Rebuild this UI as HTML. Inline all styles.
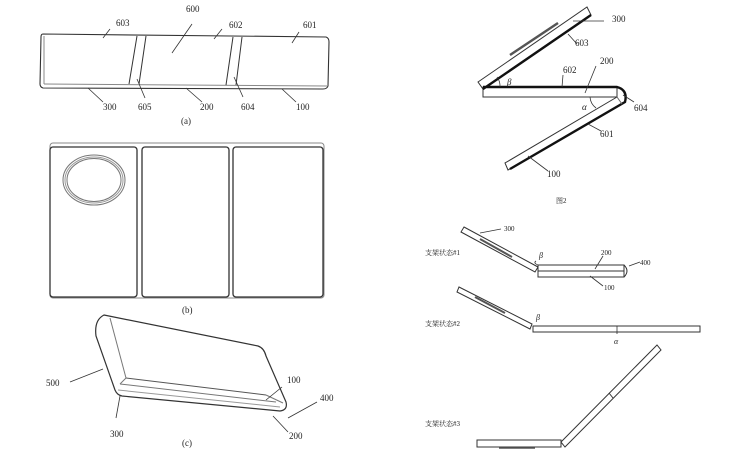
<!DOCTYPE html>
<html><head><meta charset="utf-8"><style>
html,body{margin:0;padding:0;background:#fff}
svg{display:block}
text{font-family:"Liberation Serif",serif;font-size:9px;fill:#222;stroke:none}
.c{font-family:"Liberation Serif","Noto Serif CJK SC",serif;font-size:7px}
</style></head><body>
<svg width="750" height="460" viewBox="0 0 750 460" xmlns="http://www.w3.org/2000/svg" fill="none" stroke="#333" stroke-width="1">
<!-- (a) -->
<path d="M43 34 L326 37 Q329 38 329 42 L328 86 Q327 89 323 89 L43 88 Q40 87 40 84 L41 37 Q41 34 43 34Z" stroke-width="1.1"/>
<line x1="44" y1="84" x2="327" y2="86" stroke="#888"/>
<line x1="44" y1="36" x2="44" y2="84" stroke="#888"/>
<line x1="137" y1="36" x2="129" y2="84"/><line x1="146" y1="36" x2="139" y2="84"/>
<line x1="233" y1="37" x2="226" y2="85"/><line x1="242" y1="37" x2="236" y2="85"/>
<g stroke-width="0.8">
<line x1="103" y1="38" x2="110" y2="29"/><line x1="172" y1="53" x2="192" y2="24"/><line x1="214" y1="39" x2="222" y2="29"/><line x1="292" y1="43" x2="299" y2="32"/>
<line x1="88" y1="88" x2="103" y2="102"/><line x1="137" y1="79" x2="145" y2="98"/><line x1="186" y1="88" x2="202" y2="102"/><line x1="234" y1="77" x2="243" y2="97"/><line x1="282" y1="89" x2="296" y2="102"/>
</g>
<text x="116" y="26">603</text><text x="186" y="12">600</text><text x="229" y="28">602</text><text x="303" y="28">601</text>
<text x="103" y="110">300</text><text x="138" y="110">605</text><text x="200" y="110">200</text><text x="241" y="110">604</text><text x="296" y="110">100</text>
<text x="181" y="124">(a)</text>
<!-- (b) -->
<rect x="50" y="143" width="274" height="155" rx="3" stroke="#888"/>
<rect x="50" y="147" width="87" height="150" rx="3" stroke-width="1.3"/>
<rect x="142" y="147" width="87" height="150" rx="3" stroke-width="1.3"/>
<rect x="233" y="147" width="90" height="150" rx="3" stroke-width="1.3"/>
<ellipse cx="94" cy="180" rx="31" ry="25" stroke="#777" stroke-width="1"/>
<ellipse cx="94" cy="180" rx="29" ry="23" stroke="#999"/>
<ellipse cx="94" cy="180" rx="27" ry="21.5" stroke="#777"/>
<text x="182" y="313">(b)</text>
<!-- (c) -->
<path d="M104 315 L258 346 Q264 348 266 356 L286 402 Q288 410 280 411 L122 396 Q117 395 115 390 L96 336 Q94 320 104 315Z" stroke-width="1.2"/>
<path d="M110 318 L126 378" stroke="#777"/>
<path d="M126 378 L266 395" stroke="#555"/>
<path d="M120 384 L276 402" stroke="#777"/>
<path d="M118 390 L280 407" stroke="#999"/>
<path d="M126 378 L120 384" stroke="#777"/>
<path d="M266 395 L283 403" stroke="#777"/>
<g stroke-width="0.8">
<line x1="70" y1="382" x2="103" y2="369"/><line x1="120" y1="396" x2="116" y2="418"/><line x1="266" y1="400" x2="282" y2="387"/><line x1="288" y1="418" x2="317" y2="402"/><line x1="273" y1="416" x2="288" y2="432"/>
</g>
<text x="46" y="386">500</text><text x="110" y="437">300</text><text x="287" y="383">100</text><text x="320" y="401">400</text><text x="289" y="439">200</text>
<text x="182" y="446">(c)</text>
<!-- Fig2 -->
<path d="M478 82 L587 7 L591 15 L483 89Z"/>
<path d="M510 55 L558 23" stroke-width="2.5" stroke="#555"/>
<rect x="483" y="87" width="134" height="10"/>
<path d="M617 97 L505 163 L508 170 L622 104" />
<path d="M483 89 L591 15 M483 87 L617 87 Q628 90 625 102 L510 169" stroke="#111" stroke-width="2.4"/>
<path d="M617 97 L622 104" stroke="#666"/>
<path d="M500 87 A15 15 0 0 0 497 77" stroke-width="0.8"/>
<path d="M590 97 A15 15 0 0 0 596 108" stroke-width="0.8"/>
<g stroke-width="0.8">
<line x1="573" y1="21" x2="604" y2="21"/><line x1="568" y1="34" x2="577" y2="44"/><line x1="562" y1="87" x2="563" y2="75"/><line x1="585" y1="93" x2="596" y2="66"/><line x1="623" y1="95" x2="634" y2="102"/><line x1="588" y1="124" x2="601" y2="131"/><line x1="528" y1="156" x2="548" y2="171"/>
</g>
<text x="612" y="22">300</text><text x="575" y="46">603</text><text x="563" y="73">602</text><text x="600" y="64">200</text><text x="634" y="111">604</text><text x="600" y="137">601</text><text x="547" y="177">100</text>
<text x="507" y="85" font-style="italic">β</text><text x="582" y="110" font-style="italic">α</text>
<text x="556" y="203" class="c">图2</text>
<!-- states -->
<path d="M464 227 L538 267 L535 272 L461 232Z"/>
<path d="M480 239 L512 257" stroke="#555" stroke-width="2"/>
<rect x="538" y="265" width="86" height="12"/><line x1="538" y1="271" x2="624" y2="271"/>
<path d="M624 265 Q630 271 624 277" /><path d="M538 265 Q533 263 536 261" stroke-width="0.8"/>
<line x1="480" y1="233" x2="501" y2="229" stroke-width="0.8"/><line x1="595" y1="269" x2="603" y2="256" stroke-width="0.8"/><line x1="629" y1="266" x2="640" y2="262" stroke-width="0.8"/><line x1="590" y1="276" x2="603" y2="286" stroke-width="0.8"/>
<text x="504" y="231" style="font-size:7px">300</text><text x="601" y="255" style="font-size:7px">200</text><text x="640" y="265" style="font-size:7px">400</text><text x="604" y="290" style="font-size:7px">100</text>
<text x="539" y="258" font-style="italic" style="font-size:8px">β</text>
<text x="425" y="255" class="c">支架状态#1</text>
<path d="M459 287 L532 324 L530 329 L457 292Z"/>
<path d="M475 297 L505 313" stroke="#555" stroke-width="2"/>
<rect x="533" y="326" width="167" height="6"/>
<line x1="617" y1="326" x2="617" y2="334" stroke-width="0.8"/>
<text x="536" y="320" font-style="italic" style="font-size:8px">β</text><text x="614" y="344" font-style="italic" style="font-size:8px">α</text>
<text x="425" y="326" class="c">支架状态#2</text>
<rect x="477" y="440" width="84" height="7"/>
<line x1="499" y1="448" x2="535" y2="448" stroke="#555" stroke-width="1.5"/>
<path d="M561 442 L657 345 L661 350 L565 447Z"/>
<line x1="609" y1="393" x2="613" y2="398"/>
<text x="425" y="426" class="c">支架状态#3</text>
</svg>
</body></html>
